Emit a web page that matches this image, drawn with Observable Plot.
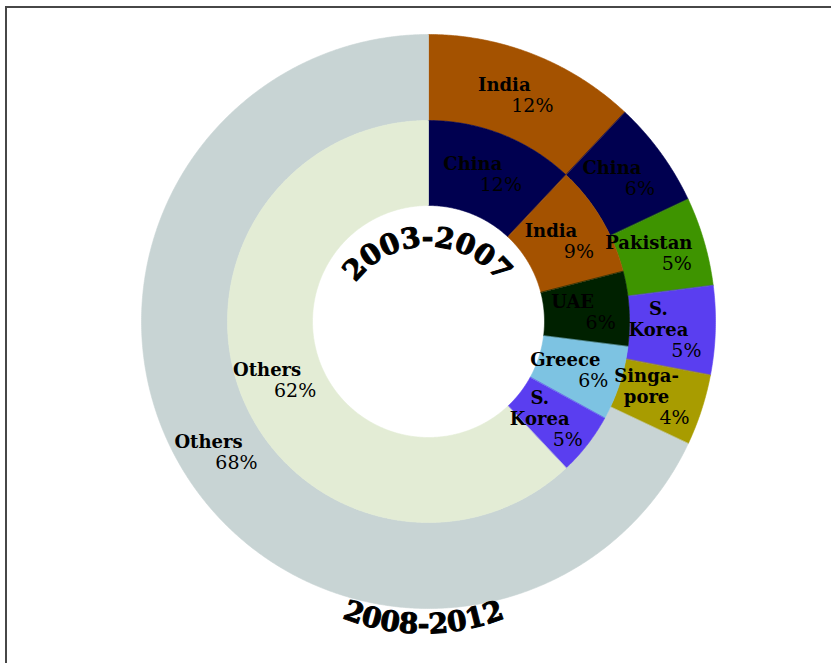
<!DOCTYPE html>
<html>
<head>
<meta charset="utf-8">
<script src="https://cdn.jsdelivr.net/npm/d3@7"></script>
<script src="https://cdn.jsdelivr.net/npm/@observablehq/plot@0.6"></script>
<style>
  html, body { margin: 0; padding: 0; background: #ffffff; }
  #wrap { position: relative; width: 831px; height: 663px; overflow: hidden; }
  #frame { position: absolute; left: 5px; top: 6px; width: 900px; height: 700px;
           border-top: 2px solid #474747; border-left: 2px solid #474747; pointer-events: none; }
</style>
</head>
<body>
<div id="wrap"><div id="chart"></div><div id="frame"></div></div>
<script>
// ---- Data ----
const ringTitles = ["2003-2007", "2008-2012"];

// Outer ring: 2008-2012
const outerCategories = ["India", "China", "Pakistan", "S. Korea", "Singapore", "Others"];
const outerLabels     = ["India", "China", "Pakistan", "S.\nKorea", "Singa-\npore", "Others"];
const outerValues     = [12, 6, 5, 5, 4, 68];

// Inner ring: 2003-2007
const innerCategories = ["China", "India", "UAE", "Greece", "S. Korea", "Others"];
const innerLabels     = ["China", "India", "UAE", "Greece", "S.\nKorea", "Others"];
const innerValues     = [12, 9, 6, 6, 5, 62];

// ---- Styles ----
const outerColors = ["#a45200", "#000050", "#3e9400", "#5a3ef0", "#a89c00", "#c8d4d4"];
const innerColors = ["#000050", "#a45200", "#002100", "#7dc3e2", "#5a3ef0", "#e3ecd5"];

// ---- Geometry ----
const W = 831, H = 663;
const CX = 428, CY = 321;              // centre of the rings in the picture
const R_HOLE = 116, R_MID = 201, R_OUT = 287;
const RAD = Math.PI / 180;

function ring(name, cats, labels, vals, r0, r1) {
  const total = d3.sum(vals);
  let acc = 0;
  return cats.map((c, i) => {
    const a0 = acc / total * 360; acc += vals[i];
    const a1 = acc / total * 360;
    return {key: name + ":" + c, cat: c, label: labels[i], value: vals[i], a0, a1, r0, r1};
  });
}
const slices = [
  ...ring(ringTitles[1], outerCategories, outerLabels, outerValues, R_MID, R_OUT),
  ...ring(ringTitles[0], innerCategories, innerLabels, innerValues, R_HOLE, R_MID)
];

function polygon(s) {
  const n = Math.max(2, Math.ceil((s.a1 - s.a0) / 0.4));
  const pts = [];
  for (let k = 0; k <= n; k++) {
    const a = (s.a0 + (s.a1 - s.a0) * k / n) * RAD;
    pts.push({key: s.key, x: s.r1 * Math.sin(a), y: -s.r1 * Math.cos(a)});
  }
  for (let k = n; k >= 0; k--) {
    const a = (s.a0 + (s.a1 - s.a0) * k / n) * RAD;
    pts.push({key: s.key, x: s.r0 * Math.sin(a), y: -s.r0 * Math.cos(a)});
  }
  return pts;
}
const polys = slices.flatMap(polygon);

const colorDomain = [
  ...outerCategories.map(c => ringTitles[1] + ":" + c),
  ...innerCategories.map(c => ringTitles[0] + ":" + c)
];
const colorRange = [...outerColors, ...innerColors];

// Labels placed around each slice's centroid
const LH = 21, CAPH = 13;
const labels = slices.map(s => {
  const am = (s.a0 + s.a1) / 2 * RAD;
  const rm = (s.r0 + s.r1) / 2;
  const cx = rm * Math.sin(am), cy = -rm * Math.cos(am);
  const n = s.label.split("\n").length;
  const B = cy - (2 - n) * LH / 2 + CAPH / 2;
  return {name: s.label, pct: s.value + "%", x: cx, yName: B, yPct: B + LH};
});

// Curved titles, one character at a time
const canvas = document.createElement("canvas");
const ctx = canvas.getContext("2d");
function arcText(str, R, cx, cy, side, size) {
  ctx.font = `bold ${size}px "DejaVu Serif"`;
  const chars = [...str];
  const widths = chars.map(ch => ctx.measureText(ch).width);
  const total = d3.sum(widths);
  let s = -total / 2;
  return chars.map((ch, i) => {
    const mid = s + widths[i] / 2; s += widths[i];
    const th = mid / R;
    if (side === "top") {
      return {ch, x: cx + R * Math.sin(th), y: cy - R * Math.cos(th), rotate: th / RAD};
    }
    return {ch, x: cx + R * Math.sin(th), y: cy + R * Math.cos(th), rotate: -th / RAD};
  });
}
const TITLE_SIZE = 28;
const innerTitle = arcText(ringTitles[0], 90, -1, 15, "top", TITLE_SIZE);
const outerTitle = arcText(ringTitles[1], 220, -5, 92, "bottom", TITLE_SIZE);

const serif = "DejaVu Serif";

const chart = Plot.plot({
  width: W,
  height: H,
  margin: 0,
  style: {background: "#ffffff"},
  x: {domain: [-CX, W - CX], range: [0, W], axis: null},
  y: {domain: [-CY, H - CY], range: [0, H], axis: null},
  color: {domain: colorDomain, range: colorRange},
  marks: [
    Plot.line(polys, {x: "x", y: "y", z: "key", fill: "key", stroke: "key", strokeWidth: 0.6, curve: "linear-closed"}),
    Plot.text(labels, {x: "x", y: "yName", text: "name", dx: -14, lineAnchor: "bottom", lineHeight: 1.17,
      fontFamily: serif, fontWeight: "bold", fontSize: 18, fill: "#000"}),
    Plot.text(labels, {x: "x", y: "yPct", text: "pct", dx: 14, lineAnchor: "bottom",
      fontFamily: serif, fontSize: 19, fill: "#000"}),
    Plot.text(innerTitle, {x: "x", y: "y", text: "ch", rotate: "rotate", lineAnchor: "bottom",
      fontFamily: serif, fontWeight: "bold", fontSize: TITLE_SIZE, fill: "#000", stroke: "#000", strokeWidth: 1}),
    Plot.text(outerTitle, {x: "x", y: "y", text: "ch", rotate: "rotate", lineAnchor: "bottom",
      fontFamily: serif, fontWeight: "bold", fontSize: TITLE_SIZE, fill: "#000", stroke: "#000", strokeWidth: 1})
  ]
});
document.getElementById("chart").appendChild(chart);
</script>
</body>
</html>
